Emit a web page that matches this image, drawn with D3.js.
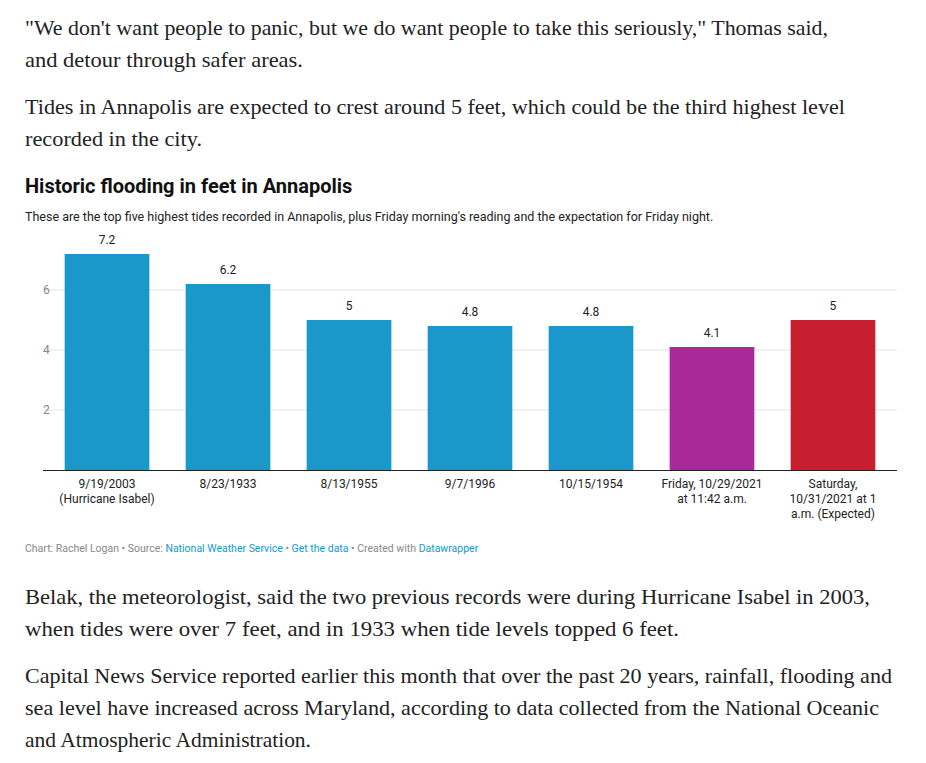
<!DOCTYPE html><html><head><meta charset="utf-8"><script src="https://cdn.jsdelivr.net/npm/d3@7"></script>
<style>body{margin:0;background:#fff}</style></head><body><script>
const categories=[["9/19/2003","(Hurricane Isabel)"],["8/23/1933"],["8/13/1955"],["9/7/1996"],["10/15/1954"],["Friday, 10/29/2021","at 11:42 a.m."],["Saturday,","10/31/2021 at 1","a.m. (Expected)"]];
const values=[7.2,6.2,5,4.8,4.8,4.1,5];
const labels=["7.2","6.2","5","4.8","4.8","4.1","5"];
const colors=["#1a98c9","#1a98c9","#1a98c9","#1a98c9","#1a98c9","#aa2999","#c81f30"];
const yTicks=[2,4,6];
const bodyTop=[["\"We don't want people to panic, but we do want people to take this seriously,\" Thomas said,",28,803],["and detour through safer areas.",60,278],["Tides in Annapolis are expected to crest around 5 feet, which could be the third highest level",107,820],["recorded in the city.",139,177]];
const bodyBot=[["Belak, the meteorologist, said the two previous records were during Hurricane Isabel in 2003,",597,845],["when tides were over 7 feet, and in 1933 when tide levels topped 6 feet.",629,654],["Capital News Service reported earlier this month that over the past 20 years, rainfall, flooding and",676,867],["sea level have increased across Maryland, according to data collected from the National Oceanic",708,854],["and Atmospheric Administration.",740,286]];
const svg=d3.select("body").append("svg").attr("width",926).attr("height",763);
[...bodyTop,...bodyBot].forEach(([t,y,w])=>svg.append("text").attr("x",25).attr("y",y+7).attr("font-family","Liberation Serif, serif").attr("font-size",21).attr("fill","#222").attr("textLength",w).attr("lengthAdjust","spacingAndGlyphs").text(t));
svg.append("text").attr("x",25).attr("y",193).attr("font-family","Roboto").attr("font-weight","bold").attr("font-size",20).attr("fill","#111").text("Historic flooding in feet in Annapolis");
svg.append("text").attr("x",25).attr("y",221).attr("font-family","Roboto").attr("font-size",12.5).attr("fill","#222").text("These are the top five highest tides recorded in Annapolis, plus Friday morning's reading and the expectation for Friday night.");
const x=d3.scaleBand().domain(d3.range(7)).range([43,897]).paddingInner(0.3).paddingOuter(0.179);
const y=d3.scaleLinear().domain([0,7.2]).range([470,254]);
const g=svg.append("g");
yTicks.forEach(t=>{g.append("line").attr("x1",43).attr("x2",897).attr("y1",y(t)).attr("y2",y(t)).attr("stroke","#e4e4e4");
g.append("text").attr("x",43).attr("y",y(t)+4).attr("font-family","Roboto").attr("font-size",12).attr("fill","#888").text(t);});
g.selectAll("rect").data(values).join("rect").attr("x",(d,i)=>x(i)).attr("width",x.bandwidth()).attr("y",d=>y(d)).attr("height",d=>470-y(d)).attr("fill",(d,i)=>colors[i]);
g.selectAll(".v").data(values).join("text").attr("x",(d,i)=>x(i)+x.bandwidth()/2).attr("y",d=>y(d)-10).attr("text-anchor","middle").attr("font-family","Roboto").attr("font-size",12).attr("fill","#222").text((d,i)=>labels[i]);
g.append("line").attr("x1",43).attr("x2",897).attr("y1",470.5).attr("y2",470.5).attr("stroke","#222");
categories.forEach((c,i)=>c.forEach((l,j)=>g.append("text").attr("x",x(i)+x.bandwidth()/2).attr("y",488+j*15).attr("text-anchor","middle").attr("font-family","Roboto").attr("font-size",12).attr("fill","#222").text(l)));
const f=svg.append("text").attr("x",25).attr("y",552).attr("font-family","Roboto").attr("font-size",10.5).attr("fill","#888");
[["Chart: Rachel Logan • Source: ","#888"],["National Weather Service","#1a98c9"],[" • ","#888"],["Get the data","#1a98c9"],[" • Created with ","#888"],["Datawrapper","#1a98c9"]].forEach(([t,c])=>f.append("tspan").attr("fill",c).text(t));
</script></body></html>
